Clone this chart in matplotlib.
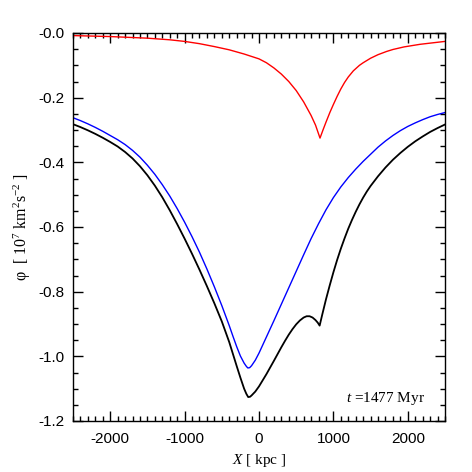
import matplotlib
matplotlib.use("Agg")
import matplotlib.pyplot as plt
from matplotlib.ticker import MultipleLocator, FixedLocator, FixedFormatter

plt.rcParams['font.family'] = ['Liberation Sans', 'DejaVu Sans']
plt.rcParams['mathtext.fontset'] = 'custom'
plt.rcParams['mathtext.rm'] = 'Liberation Serif'
plt.rcParams['mathtext.it'] = 'Liberation Serif:italic'

# ---- data ----
red_x = [-2500, -2000, -1500, -1200, -1000, -800, -600, -400, -200, 0, 100, 200,
         300, 400, 500, 600, 700, 760, 820, 860, 900, 954, 1000, 1050, 1100,
         1150, 1200, 1268, 1350, 1400, 1500, 1600, 1716, 1800, 1950, 2164,
         2350, 2500]
red_y = [-0.008, -0.011, -0.016, -0.021, -0.026, -0.033, -0.042, -0.052, -0.065,
         -0.080, -0.092, -0.108, -0.127, -0.150, -0.178, -0.213, -0.255, -0.285,
         -0.325, -0.300, -0.276, -0.245, -0.221, -0.196, -0.173, -0.153, -0.136,
         -0.117, -0.100, -0.092, -0.078, -0.067, -0.057, -0.051, -0.043, -0.035,
         -0.030, -0.026]

black_x = [-2500, -2400, -2300, -2200, -2100, -2000, -1900, -1800, -1700, -1600,
           -1500, -1400, -1300, -1200, -1100, -1000, -900, -800, -700, -600,
           -500, -400, -350, -300, -250, -200, -170, -145, -120, -100, -50, 0,
           100, 200, 300, 350, 400, 450, 500, 550, 600, 640, 680, 720, 760, 790,
           815, 850, 900, 950, 1000, 1050, 1100, 1150, 1200, 1250, 1300, 1350,
           1400, 1450, 1500, 1600, 1700, 1800, 1900, 2000, 2100, 2200, 2300,
           2400, 2500]
black_y = [-0.282, -0.291, -0.301, -0.312, -0.324, -0.337, -0.351, -0.368, -0.388,
           -0.412, -0.440, -0.472, -0.508, -0.548, -0.591, -0.636, -0.683, -0.732,
           -0.783, -0.836, -0.892, -0.956, -0.993, -1.030, -1.066, -1.100, -1.116,
           -1.126, -1.125, -1.121, -1.109, -1.093, -1.055, -1.014, -0.972, -0.952,
           -0.933, -0.916, -0.901, -0.889, -0.880, -0.876, -0.876, -0.880, -0.888,
           -0.896, -0.905, -0.871, -0.824, -0.781, -0.740, -0.702, -0.667, -0.635,
           -0.605, -0.578, -0.553, -0.530, -0.509, -0.490, -0.473, -0.443, -0.416,
           -0.392, -0.371, -0.352, -0.335, -0.320, -0.306, -0.294, -0.283]

blue_x = [-2500, -2400, -2300, -2200, -2100, -2000, -1900, -1800, -1700, -1600,
          -1500, -1400, -1300, -1200, -1100, -1000, -900, -800, -700, -600, -500,
          -400, -350, -300, -250, -200, -170, -150, -125, -100, -50, 0, 100, 200,
          300, 400, 500, 600, 700, 800, 900, 1000, 1100, 1200, 1300, 1400, 1500,
          1600, 1700, 1800, 1900, 2000, 2100, 2200, 2300, 2400, 2500]
blue_y = [-0.262, -0.271, -0.281, -0.292, -0.304, -0.317, -0.330, -0.345, -0.363,
          -0.384, -0.409, -0.437, -0.469, -0.504, -0.543, -0.585, -0.630, -0.678,
          -0.730, -0.785, -0.843, -0.905, -0.938, -0.970, -0.999, -1.021, -1.031,
          -1.036, -1.035, -1.029, -1.012, -0.990, -0.940, -0.890, -0.839, -0.788,
          -0.737, -0.686, -0.636, -0.590, -0.547, -0.509, -0.476, -0.447, -0.421,
          -0.397, -0.375, -0.353, -0.334, -0.317, -0.302, -0.289, -0.278, -0.268,
          -0.259, -0.252, -0.246]

x_ticks = [-2000, -1000, 0, 1000, 2000]
x_ticklabels = ['-2000', '-1000', '0', '1000', '2000']
y_ticks = [-1.2, -1.0, -0.8, -0.6, -0.4, -0.2, 0.0]
y_ticklabels = ['-1.2', '-1.0', '-0.8', '-0.6', '-0.4', '-0.2', '-0.0']
time_label = r'$t$ =1477 Myr'

# ---- figure ----
fig = plt.figure(figsize=(4.72, 4.72), dpi=100)
ax = fig.add_axes([73/472, 51/472, 372/472, 388/472])

ax.plot(red_x, red_y, color='#ff0000', lw=1.0)
ax.plot(blue_x, blue_y, color='#0000ff', lw=1.0)
ax.plot(black_x, black_y, color='black', lw=1.3)

ax.set_xlim(-2500, 2500)
ax.set_ylim(-1.2, 0.0)

ax.xaxis.set_major_locator(FixedLocator(x_ticks))
ax.xaxis.set_major_formatter(FixedFormatter(x_ticklabels))
ax.xaxis.set_minor_locator(MultipleLocator(100))
ax.yaxis.set_major_locator(FixedLocator(y_ticks))
ax.yaxis.set_major_formatter(FixedFormatter(y_ticklabels))
ax.yaxis.set_minor_locator(MultipleLocator(0.05))

ax.tick_params(which='both', direction='in', top=True, right=True, width=1.0,
               labelsize=11, colors='black')
ax.tick_params(which='major', length=7)
ax.tick_params(axis='x', which='major', pad=8)
ax.tick_params(axis='y', which='major', pad=6)
ax.tick_params(which='minor', length=3.5)
for s in ax.spines.values():
    s.set_linewidth(1.0)

ax.set_xlabel(r'$X$ [ kpc ]', fontsize=11, family='Liberation Serif', labelpad=4)
ax.set_ylabel(r'φ  [ 10$^7$ km$^2$s$^{-2}$ ]', fontsize=11.5,
              family='Liberation Serif', labelpad=4)

ax.text(2230, -1.14, time_label, ha='right', va='baseline', fontsize=11,
        family='Liberation Serif')

fig.savefig('out.png', dpi=100)
